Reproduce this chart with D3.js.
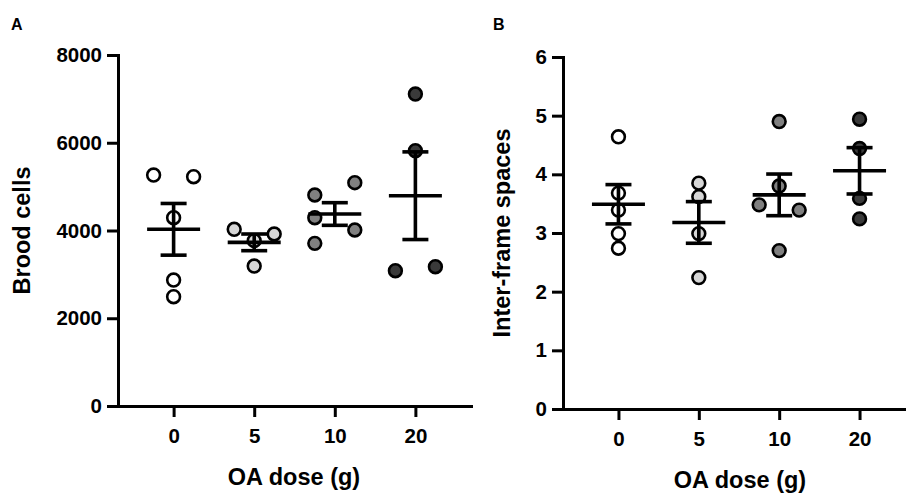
<!DOCTYPE html>
<html>
<head>
<meta charset="utf-8">
<script src="https://cdn.jsdelivr.net/npm/d3@7"></script>
<style>
  html, body { margin: 0; padding: 0; background: #fff; }
  svg { display: block; font-family: "Liberation Sans", Arial, sans-serif; }
</style>
</head>
<body>
<svg id="chart" width="906" height="493"></svg>
<script>
// ---- data ----
const categories = ["0", "5", "10", "20"];
const groupFills = ["#ffffff", "#d6d6d6", "#808080", "#3a3a3a"];

// Panel A: Brood cells
const broodValues = [
  [5264, 5226, 4292, 2871, 2491],
  [4027, 3920, 3768, 3190],
  [4809, 4292, 3707, 5090, 4011],
  [7110, 5819, 3084, 3175]
];
const broodJitter = [
  [-1, 1, 0, 0, 0],
  [-1, 1, 0, 0],
  [-1, -1, -1, 1, 1],
  [0, 0, -1, 1]
];
const broodMean = [4027, 3730, 4376, 4793];
const broodSem = [589, 190, 258, 999];
const broodTicks = [0, 2000, 4000, 6000, 8000];

// Panel B: Inter-frame spaces
const ifsValues = [
  [4.64, 3.68, 3.39, 2.99, 2.74],
  [3.85, 3.62, 2.99, 2.24],
  [4.90, 3.80, 3.48, 3.39, 2.70],
  [4.94, 4.44, 3.59, 3.24]
];
const ifsJitter = [
  [0, 0, 0, 0, 0],
  [0, 0, 0, 0],
  [0, 0, -1, 1, 0],
  [0, 0, 0, 0]
];
const ifsMean = [3.49, 3.18, 3.65, 4.06];
const ifsSem = [0.335, 0.355, 0.355, 0.395];
const ifsTicks = [0, 1, 2, 3, 4, 5, 6];

// ---- drawing ----
const svg = d3.select("#chart");

function panel(cfg) {
  const g = svg.append("g");
  const x = d3.scalePoint().domain(categories).range(cfg.xRange).padding(0.69);
  const y = d3.scaleLinear().domain(cfg.yDomain).range(cfg.yRange);

  // y axis
  const ya = g.append("g")
    .attr("transform", `translate(${cfg.xRange[0]},0)`)
    .call(d3.axisLeft(y).tickValues(cfg.ticks).tickFormat(d3.format("d"))
      .tickSize(11).tickPadding(5).tickSizeOuter(0));
  // x axis
  const xa = g.append("g")
    .attr("transform", `translate(0,${cfg.yRange[0]})`)
    .call(d3.axisBottom(x).tickSize(11).tickPadding(11).tickSizeOuter(0));

  [ya, xa].forEach(a => {
    a.selectAll("path.domain").attr("stroke", "#000").attr("stroke-width", 3).attr("stroke-linecap", "square");
    a.selectAll(".tick line").attr("stroke", "#000").attr("stroke-width", 3);
    a.selectAll(".tick text")
      .attr("fill", "#000")
      .style("font-size", "20.5px")
      .style("font-weight", "bold")
      .style("font-family", '"Liberation Sans", Arial, sans-serif');
  });

  const jitterPx = 20;
  // points
  cfg.values.forEach((vals, i) => {
    g.selectAll(null)
      .data(vals.map((v, j) => ({ v, j: cfg.jitter[i][j] })))
      .enter().append("circle")
      .attr("cx", d => x(categories[i]) + d.j * jitterPx)
      .attr("cy", d => y(d.v))
      .attr("r", 6.4)
      .attr("fill", groupFills[i])
      .attr("stroke", "#000")
      .attr("stroke-width", 2.6);
  });

  // mean +/- SEM
  const meanHalf = 26.5, capHalf = 13;
  categories.forEach((c, i) => {
    const cx = x(c);
    const m = cfg.mean[i], s = cfg.sem[i];
    const eg = g.append("g").attr("stroke", "#000").attr("stroke-width", 3.6);
    eg.append("line").attr("x1", cx).attr("x2", cx).attr("y1", y(m + s)).attr("y2", y(m - s));
    eg.append("line").attr("x1", cx - meanHalf).attr("x2", cx + meanHalf).attr("y1", y(m)).attr("y2", y(m));
    eg.append("line").attr("x1", cx - capHalf).attr("x2", cx + capHalf).attr("y1", y(m + s)).attr("y2", y(m + s));
    eg.append("line").attr("x1", cx - capHalf).attr("x2", cx + capHalf).attr("y1", y(m - s)).attr("y2", y(m - s));
  });

  // titles
  g.append("text")
    .attr("transform", `translate(${cfg.yTitleX},${(cfg.yRange[0] + cfg.yRange[1]) / 2}) rotate(-90)`)
    .attr("text-anchor", "middle")
    .attr("dy", "0.35em")
    .style("font-size", "23.5px").style("font-weight", "bold")
    .text(cfg.yTitle);
  g.append("text")
    .attr("x", cfg.xTitleX)
    .attr("y", cfg.xTitleY)
    .attr("text-anchor", "middle")
    .style("font-size", "23.5px").style("font-weight", "bold")
    .text("OA dose (g)");
  g.append("text")
    .attr("x", cfg.letterX).attr("y", 30)
    .style("font-size", "16px").style("font-weight", "bold")
    .text(cfg.letter);
}

panel({
  xRange: [118, 471], yRange: [406, 55], yDomain: [0, 8000], ticks: broodTicks,
  values: broodValues, jitter: broodJitter, mean: broodMean, sem: broodSem,
  yTitle: "Brood cells", yTitleX: 22, xTitleX: 294, xTitleY: 485, letter: "A", letterX: 11
});
panel({
  xRange: [563, 915], yRange: [409, 57], yDomain: [0, 6], ticks: ifsTicks,
  values: ifsValues, jitter: ifsJitter, mean: ifsMean, sem: ifsSem,
  yTitle: "Inter-frame spaces", yTitleX: 502, xTitleX: 740, xTitleY: 488, letter: "B", letterX: 493
});
</script>
</body>
</html>
